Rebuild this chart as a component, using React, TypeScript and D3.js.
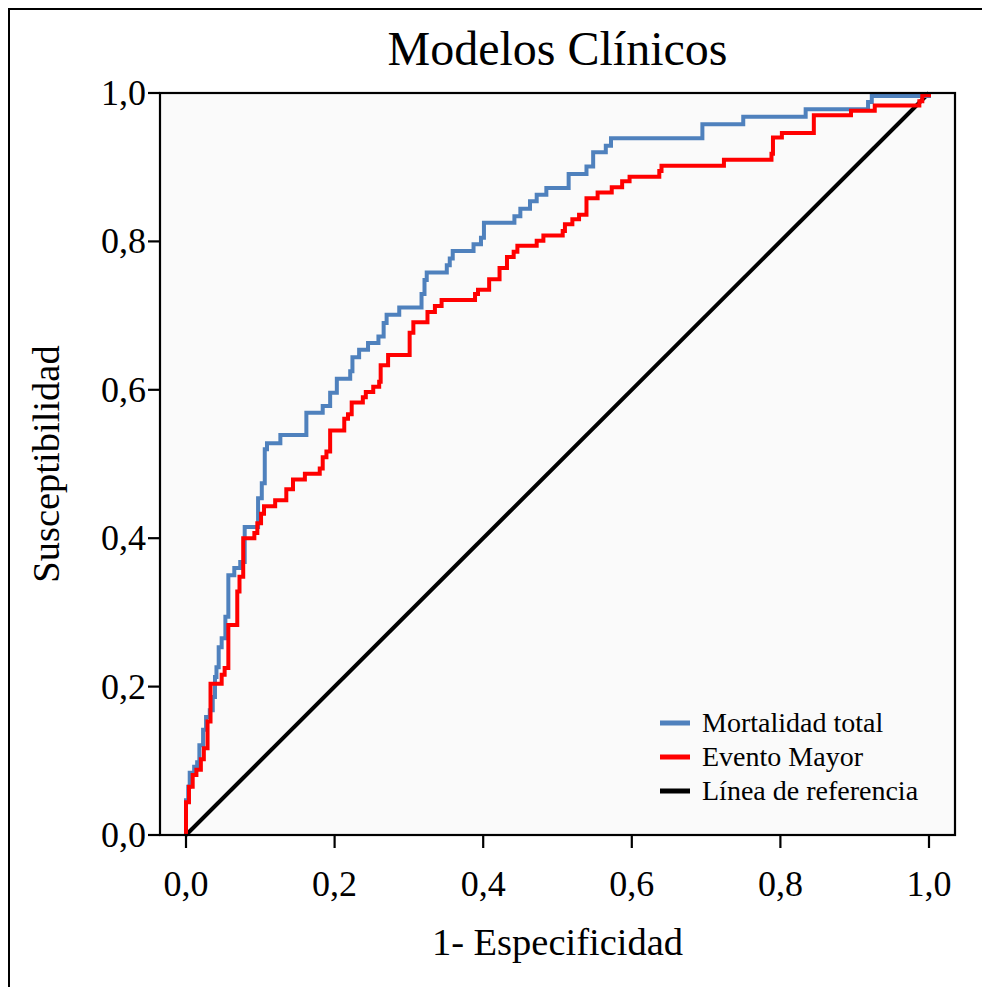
import React from "react";
import * as d3 from "d3";

const title = "Modelos Clínicos";
const xLabel = "1- Especificidad";
const yLabel = "Susceptibilidad";
const ticks = [0, 0.2, 0.4, 0.6, 0.8, 1.0];
const tickLabels = ["0,0", "0,2", "0,4", "0,6", "0,8", "1,0"];
const seriesNames = ["Mortalidad total", "Evento Mayor", "Línea de referencia"];
const seriesColors = ["#4f81bd", "#ff0000", "#000000"];

// Mortalidad total: each point = (1-specificity where the curve rises, sensitivity after the rise)
const mortFpr = [0, 0, 0.003, 0.005, 0.011, 0.015, 0.018, 0.023, 0.027, 0.032, 0.036, 0.039, 0.041, 0.044, 0.048, 0.053, 0.057, 0.065, 0.073, 0.079, 0.097, 0.102, 0.106, 0.109, 0.127, 0.162, 0.184, 0.194, 0.203, 0.221, 0.224, 0.233, 0.245, 0.259, 0.266, 0.270, 0.287, 0.317, 0.321, 0.324, 0.351, 0.355, 0.359, 0.387, 0.397, 0.401, 0.442, 0.450, 0.463, 0.472, 0.485, 0.515, 0.539, 0.548, 0.565, 0.572, 0.695, 0.750, 0.834, 0.918, 0.923, 1];
const mortTpr = [0, 0.047, 0.065, 0.084, 0.092, 0.098, 0.121, 0.142, 0.159, 0.168, 0.186, 0.213, 0.226, 0.253, 0.265, 0.294, 0.350, 0.360, 0.368, 0.415, 0.454, 0.474, 0.520, 0.528, 0.539, 0.569, 0.578, 0.596, 0.615, 0.625, 0.644, 0.654, 0.663, 0.672, 0.690, 0.701, 0.711, 0.729, 0.748, 0.758, 0.768, 0.777, 0.787, 0.796, 0.805, 0.825, 0.834, 0.844, 0.854, 0.863, 0.872, 0.891, 0.901, 0.920, 0.929, 0.939, 0.958, 0.968, 0.978, 0.988, 0.996, 1];

// Evento Mayor
const eventFpr = [0, 0, 0.004, 0.009, 0.014, 0.020, 0.024, 0.029, 0.033, 0.048, 0.052, 0.057, 0.069, 0.072, 0.077, 0.092, 0.096, 0.101, 0.105, 0.120, 0.135, 0.144, 0.160, 0.180, 0.184, 0.189, 0.194, 0.213, 0.218, 0.223, 0.238, 0.242, 0.252, 0.260, 0.262, 0.272, 0.301, 0.306, 0.325, 0.335, 0.344, 0.389, 0.393, 0.408, 0.422, 0.432, 0.441, 0.446, 0.472, 0.481, 0.507, 0.510, 0.520, 0.529, 0.539, 0.554, 0.573, 0.587, 0.597, 0.637, 0.640, 0.724, 0.788, 0.790, 0.802, 0.845, 0.895, 0.927, 0.987, 0.991, 1];
const eventTpr = [0, 0.044, 0.065, 0.081, 0.088, 0.102, 0.117, 0.153, 0.204, 0.216, 0.225, 0.283, 0.328, 0.348, 0.400, 0.407, 0.420, 0.433, 0.443, 0.451, 0.466, 0.479, 0.487, 0.494, 0.509, 0.517, 0.545, 0.561, 0.567, 0.583, 0.590, 0.597, 0.604, 0.611, 0.633, 0.647, 0.677, 0.691, 0.705, 0.713, 0.721, 0.729, 0.735, 0.749, 0.764, 0.779, 0.786, 0.794, 0.801, 0.808, 0.814, 0.823, 0.830, 0.836, 0.858, 0.866, 0.873, 0.881, 0.887, 0.895, 0.902, 0.910, 0.918, 0.940, 0.946, 0.970, 0.976, 0.983, 0.989, 0.997, 1];

const refFpr = [0, 1];
const refTpr = [0, 1];

const W = 982;
const H = 987;
const plot = { left: 160, right: 955, top: 93, bottom: 835 };
const FONT = "'Liberation Serif', 'Times New Roman', serif";

export default function App() {
  const x = d3.scaleLinear().domain([-0.035, 1.035]).range([plot.left, plot.right]);
  const y = d3.scaleLinear().domain([0, 1]).range([plot.bottom, plot.top]);

  const step = d3
    .line<[number, number]>()
    .x((d) => x(d[0]))
    .y((d) => y(d[1]))
    .curve(d3.curveStepAfter);
  const straight = d3
    .line<[number, number]>()
    .x((d) => x(d[0]))
    .y((d) => y(d[1]));

  const zip = (a: number[], b: number[]) => a.map((v, i) => [v, b[i]] as [number, number]);
  const mortPath = step(zip(mortFpr, mortTpr)) || "";
  const eventPath = step(zip(eventFpr, eventTpr)) || "";
  const refPath = straight(zip(refFpr, refTpr)) || "";

  const legendY = [723, 757, 791];

  return (
    <>
      <style>{`body{margin:0;overflow:hidden;background:#fff}`}</style>
      <svg width={W} height={H} style={{ display: "block" }} fontFamily={FONT}>
        <rect x={0} y={0} width={W} height={H} fill="#ffffff" />
        <path d={`M9,${H + 5}V9H${W + 5}`} fill="none" stroke="#000" strokeWidth={2} />
        <rect
          x={plot.left}
          y={plot.top}
          width={plot.right - plot.left}
          height={plot.bottom - plot.top}
          fill="#fafafa"
        />
        {/* curves */}
        <path d={refPath} fill="none" stroke={seriesColors[2]} strokeWidth={4} />
        <path d={mortPath} fill="none" stroke={seriesColors[0]} strokeWidth={4} />
        <path d={eventPath} fill="none" stroke={seriesColors[1]} strokeWidth={4} />
        {/* frame */}
        <rect
          x={plot.left}
          y={plot.top}
          width={plot.right - plot.left}
          height={plot.bottom - plot.top}
          fill="none"
          stroke="#000"
          strokeWidth={2.2}
        />
        {/* y ticks */}
        {ticks.map((t, i) => (
          <g key={"y" + i}>
            <line x1={plot.left - 12} x2={plot.left} y1={y(t)} y2={y(t)} stroke="#000" strokeWidth={2.2} />
            <text x={plot.left - 14} y={y(t) + 12} textAnchor="end" fontSize={36} fill="#000">
              {tickLabels[i]}
            </text>
          </g>
        ))}
        {/* x ticks */}
        {ticks.map((t, i) => (
          <g key={"x" + i}>
            <line x1={x(t)} x2={x(t)} y1={plot.bottom} y2={plot.bottom + 13} stroke="#000" strokeWidth={2.2} />
            <text x={x(t)} y={896} textAnchor="middle" fontSize={36} fill="#000">
              {tickLabels[i]}
            </text>
          </g>
        ))}
        {/* titles */}
        <text x={(plot.left + plot.right) / 2} y={65} textAnchor="middle" fontSize={48} fill="#000">
          {title}
        </text>
        <text x={(plot.left + plot.right) / 2} y={955} textAnchor="middle" fontSize={38.5} fill="#000">
          {xLabel}
        </text>
        <text
          transform={`translate(59,${(plot.top + plot.bottom) / 2}) rotate(-90)`}
          textAnchor="middle"
          fontSize={38.5}
          fill="#000"
        >
          {yLabel}
        </text>
        {/* legend */}
        {seriesNames.map((n, i) => (
          <g key={"l" + i}>
            <line x1={660} x2={690} y1={legendY[i]} y2={legendY[i]} stroke={seriesColors[i]} strokeWidth={5} />
            <text x={702} y={legendY[i] + 9} fontSize={28} fill="#000">
              {n}
            </text>
          </g>
        ))}
      </svg>
    </>
  );
}
